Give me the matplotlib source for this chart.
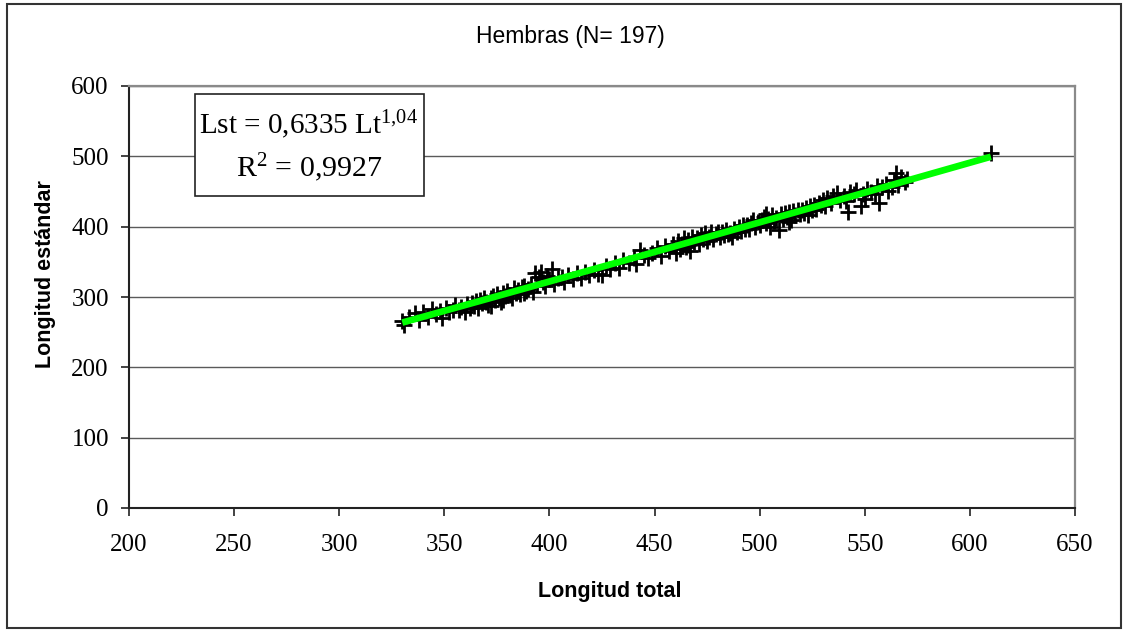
import matplotlib
matplotlib.use("Agg")
import matplotlib.pyplot as plt
from matplotlib.patches import Rectangle
import numpy as np

# ---- data ----
longitud_total = [
    330, 331, 333, 336, 338, 340, 342, 344, 346, 348,
    349, 351, 352, 354, 355, 357, 358, 360, 361, 362,
    363, 364, 365, 366, 367, 368, 369, 370, 371, 372,
    373, 374, 375, 376, 377, 378, 379, 380, 381, 382,
    383, 384, 385, 386, 387, 388, 389, 390, 391, 392,
    393, 394, 395, 396, 397, 398, 399, 400, 401, 402,
    404, 406, 407, 409, 411, 413, 415, 417, 419, 421,
    423, 425, 427, 429, 431, 433, 435, 438, 440, 441,
    443, 445, 447, 449, 451, 453, 455, 457, 459, 460,
    461, 462, 463, 464, 465, 466, 467, 468, 469, 470,
    471, 472, 473, 474, 475, 476, 477, 478, 479, 480,
    481, 482, 483, 484, 485, 486, 487, 488, 489, 490,
    491, 492, 493, 494, 495, 496, 497, 498, 499, 500,
    501, 502, 503, 504, 505, 506, 507, 508, 509, 510,
    511, 512, 513, 514, 515, 516, 517, 518, 519, 520,
    521, 522, 523, 524, 525, 526, 527, 528, 529, 530,
    531, 532, 534, 535, 537, 538, 540, 541, 542, 543,
    545, 546, 548, 549, 550, 551, 553, 555, 556, 557,
    558, 560, 561, 563, 564, 565, 566, 567, 569, 570,
    372, 378, 388, 466, 503, 514, 610,
]
longitud_estandar = [
    266, 260, 271, 277, 268, 278, 272, 283, 276, 280,
    270, 285, 279, 282, 288, 281, 286, 278, 290, 285,
    291, 287, 294, 284, 296, 291, 299, 293, 288, 298,
    302, 296, 304, 299, 293, 305, 301, 308, 303, 298,
    313, 306, 310, 304, 314, 316, 309, 312, 319, 307,
    334, 318, 329, 336, 321, 316, 330, 325, 340, 319,
    327, 328, 322, 331, 325, 334, 327, 336, 331, 338,
    333, 331, 344, 340, 348, 341, 352, 348, 356, 347,
    367, 360, 355, 362, 370, 359, 373, 366, 375, 363,
    380, 368, 376, 384, 371, 381, 365, 386, 378, 384,
    375, 388, 382, 391, 380, 386, 393, 383, 389, 393,
    386, 392, 388, 395, 390, 391, 385, 397, 393, 399,
    394, 402, 397, 402, 396, 405, 409, 400, 407, 403,
    410, 414, 405, 411, 399, 416, 408, 413, 395, 418,
    411, 419, 414, 421, 409, 422, 416, 424, 418, 424,
    420, 427, 416, 429, 423, 431, 425, 433, 431, 438,
    429, 441, 434, 444, 448, 438, 443, 436, 421, 449,
    446, 452, 430, 447, 440, 454, 450, 447, 458, 433,
    457, 461, 451, 457, 466, 476, 459, 470, 463, 468,
    287, 296, 306, 374, 418, 407, 505,
]
fit_a = 0.6335
fit_b = 1.04
x_ticks = [200, 250, 300, 350, 400, 450, 500, 550, 600, 650]
y_ticks = [0, 100, 200, 300, 400, 500, 600]

# ---- figure ----
W, H = 1127, 632
fig = plt.figure(figsize=(W / 100, H / 100), dpi=100)
plt.rcParams['mathtext.fontset'] = 'custom'
plt.rcParams['mathtext.rm'] = 'Liberation Serif'
plt.rcParams['mathtext.it'] = 'Liberation Serif:italic'

ax_l, ax_r, ax_t, ax_b = 129, 1075, 86, 508
ax = fig.add_axes([ax_l / W, 1 - ax_b / H, (ax_r - ax_l) / W, (ax_b - ax_t) / H])

ax.set_xlim(200, 650)
ax.set_ylim(0, 600)
ax.set_xticks(x_ticks)
ax.set_yticks(y_ticks)
ax.yaxis.grid(True, color='#5a5a5a', lw=1.0)
ax.set_axisbelow(True)

for s in ['top', 'right']:
    ax.spines[s].set_color('#8a8a8a')
    ax.spines[s].set_linewidth(1.6)
for s in ['left', 'bottom']:
    ax.spines[s].set_color('#222222')
    ax.spines[s].set_linewidth(1.5)

ax.tick_params(direction='out', length=5.5, width=1.2, color='#222222')
ax.tick_params(axis='x', pad=13)
ax.tick_params(axis='y', pad=9)
for lab in ax.get_xticklabels() + ax.get_yticklabels():
    lab.set_fontfamily('Liberation Serif')
    lab.set_fontsize(18)

# scatter
ax.plot(longitud_total, longitud_estandar, linestyle='none', marker='+',
        markersize=12, markeredgewidth=2.0, color='black', zorder=3)

# power trend line from the stated coefficients
xt = np.linspace(min(longitud_total), max(longitud_total), 100)
ax.plot(xt, fit_a * xt ** fit_b, color='#00ff00', lw=4.8, zorder=4,
        solid_capstyle='butt')

# equation box
bx0, bx1, by0, by1 = 195, 424, 94, 196
def px2data(px, py):
    return (200 + (px - ax_l) / (ax_r - ax_l) * 450,
            (ax_b - py) / (ax_b - ax_t) * 600)
(x0, y0) = px2data(bx0, by1)
(x1, y1) = px2data(bx1, by0)
ax.add_patch(Rectangle((x0, y0), x1 - x0, y1 - y0, facecolor='white',
                       edgecolor='#222222', lw=1.2, zorder=5))
cx, cy1 = px2data(309, 125)
_, cy2 = px2data(309, 168)
ax.text(cx, cy1, r'Lst = 0,6335 Lt$^{\mathregular{1{,}04}}$', ha='center', va='center',
        fontfamily='Liberation Serif', fontsize=21, zorder=6)
ax.text(cx, cy2, r'R$^{\mathregular{2}}$ = 0,9927', ha='center', va='center',
        fontfamily='Liberation Serif', fontsize=21.5, zorder=6)

# title and axis labels
fig.text(570 / W, 1 - 37 / H, 'Hembras (N= 197)', ha='center', va='center',
         fontfamily='Liberation Sans', fontsize=16.5)
fig.text(610 / W, 1 - 592 / H, 'Longitud total', ha='center', va='center',
         fontfamily='Liberation Sans', fontweight='bold', fontsize=15.5)
fig.text(46 / W, 1 - 274 / H, 'Longitud estándar', ha='center', va='center',
         rotation=90, fontfamily='Liberation Sans', fontweight='bold', fontsize=15.5)

# outer chart border
fig.patches.append(Rectangle((7 / W, 1 - 628 / H), (1121 - 7) / W, (628 - 4) / H,
                             transform=fig.transFigure, fill=False,
                             edgecolor='#333333', lw=1.5))

fig.savefig('out.png', dpi=100)
